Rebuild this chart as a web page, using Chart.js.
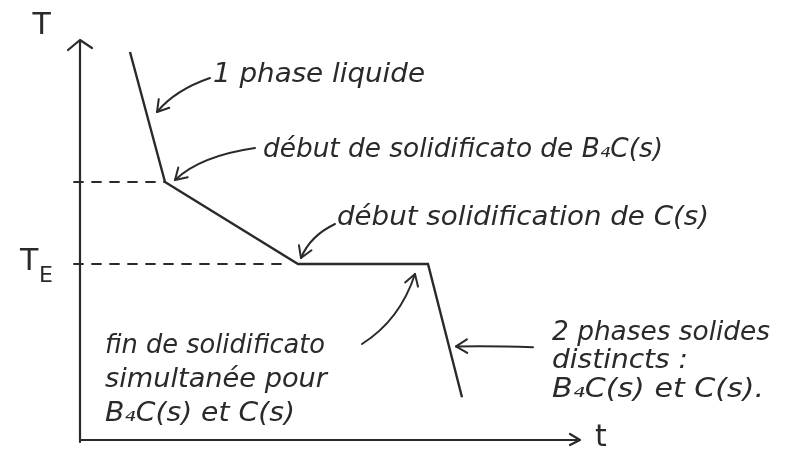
<!DOCTYPE html>
<html>
<head>
<meta charset="utf-8">
<script src="https://cdn.jsdelivr.net/npm/chart.js@4.4.1/dist/chart.umd.min.js"></script>
<style>
  html, body { margin: 0; padding: 0; background: #ffffff; }
  #wrap { width: 798px; height: 470px; }
</style>
</head>
<body>
<div id="wrap"><canvas id="c" width="798" height="470"></canvas></div>
<script>
// Cooling curve T(t): liquid cooling, B4C(s) crystallisation, eutectic plateau, solid cooling
const times = [1.0, 1.7, 4.36, 6.96, 7.64];
const temps = [9.7, 6.45, 4.4, 4.4, 1.07];

// Characteristic temperatures (start of B4C(s) solidification, eutectic T_E)
const levelStart = 6.45;
const levelEutectic = 4.4;
const levelStartEnd = 1.7;
const levelEutecticEnd = 4.2;

// Annotation texts
const labelLiquid = '1 phase liquide';
const labelStartB4C = 'début de solidificato de B₄C(s)';
const labelStartC = 'début solidification de C(s)';
const labelEnd = ['fin de solidificato', 'simultanée pour', 'B₄C(s) et C(s)'];
const labelSolids = ['2 phases solides', 'distincts :', 'B₄C(s) et C(s).'];

const ink = '#2a2a2a';
const hand = 'italic 26px "DejaVu Sans", sans-serif';

// writes a label stretched horizontally to the given width (in pixels)
function writeFit(ctx, text, x, y, w) {
  const m = ctx.measureText(text).width;
  const sx = w / m;
  ctx.save();
  ctx.translate(x, y);
  ctx.scale(sx, 1);
  ctx.fillText(text, 0, 0);
  ctx.restore();
}

const notes = {
  id: 'notes',
  afterDatasetsDraw(chart) {
    const { ctx } = chart;
    const X = v => chart.scales.x.getPixelForValue(v);
    const Y = v => chart.scales.y.getPixelForValue(v);
    ctx.save();
    ctx.strokeStyle = ink;
    ctx.fillStyle = ink;
    ctx.lineCap = 'round';
    ctx.lineJoin = 'round';

    // axes with open arrowheads
    ctx.lineWidth = 2.2;
    ctx.beginPath();
    ctx.moveTo(X(0), Y(0) + 2);
    ctx.lineTo(X(0), Y(10));
    ctx.moveTo(X(0) - 12, Y(10) + 10);
    ctx.lineTo(X(0), Y(10));
    ctx.lineTo(X(0) + 12, Y(10) + 8);
    ctx.moveTo(X(0), Y(0));
    ctx.lineTo(X(10), Y(0));
    ctx.moveTo(X(10) - 10, Y(0) - 6);
    ctx.lineTo(X(10), Y(0));
    ctx.lineTo(X(10) - 10, Y(0) + 5);
    ctx.stroke();

    // dashed level lines
    ctx.lineWidth = 1.8;
    ctx.setLineDash([9, 9]);
    ctx.beginPath();
    ctx.moveTo(X(0) - 6, Y(levelStart));
    ctx.lineTo(X(levelStartEnd), Y(levelStart));
    ctx.moveTo(X(0) - 6, Y(levelEutectic));
    ctx.lineTo(X(levelEutecticEnd), Y(levelEutectic));
    ctx.stroke();
    ctx.setLineDash([]);

    // curved pointer arrows
    const arrows = [
      [[2.6, 9.05], [1.9, 8.75], [1.54, 8.2]],
      [[3.5, 7.3], [2.4, 7.1], [1.9, 6.5]],
      [[5.1, 5.4], [4.6, 5.1], [4.42, 4.55]],
      [[5.64, 2.4], [6.4, 3.0], [6.7, 4.15]],
      [[9.06, 2.32], [8.2, 2.36], [7.52, 2.34]]
    ];
    ctx.lineWidth = 2;
    arrows.forEach(([a, c, b]) => {
      const ax = X(a[0]), ay = Y(a[1]), cx = X(c[0]), cy = Y(c[1]), bx = X(b[0]), by = Y(b[1]);
      ctx.beginPath();
      ctx.moveTo(ax, ay);
      ctx.quadraticCurveTo(cx, cy, bx, by);
      ctx.stroke();
      const ang = Math.atan2(by - cy, bx - cx);
      const len = 13, sp = 0.55;
      ctx.beginPath();
      ctx.moveTo(bx - len * Math.cos(ang - sp), by - len * Math.sin(ang - sp));
      ctx.lineTo(bx, by);
      ctx.lineTo(bx - len * Math.cos(ang + sp), by - len * Math.sin(ang + sp));
      ctx.stroke();
    });

    // text
    ctx.font = hand;
    ctx.textBaseline = 'middle';
    ctx.textAlign = 'left';
    writeFit(ctx, labelLiquid, X(2.66), Y(9.12), 212);
    writeFit(ctx, labelStartB4C, X(3.66), Y(7.25), 400);
    writeFit(ctx, labelStartC, X(5.14), Y(5.55), 372);
    const endW = [220, 222, 190];
    labelEnd.forEach((s, i) => writeFit(ctx, s, X(0.5), Y(2.35 - i * 0.85), endW[i]));
    const solW = [218, 136, 212];
    labelSolids.forEach((s, i) => writeFit(ctx, s, X(9.44), Y(2.68 - i * 0.72), solW[i]));

    // axis names
    ctx.font = '30px "DejaVu Sans", sans-serif';
    ctx.fillText('T', X(-0.95), Y(10.35));
    ctx.fillText('T', X(-1.2), Y(4.45));
    ctx.font = '22px "DejaVu Sans", sans-serif';
    ctx.fillText('E', X(-0.82), Y(4.1));
    ctx.font = '30px "DejaVu Sans", sans-serif';
    ctx.fillText('t', X(10.3), Y(0.05));
    ctx.restore();
  }
};

new Chart(document.getElementById('c'), {
  type: 'scatter',
  data: {
    datasets: [{
      data: times.map((t, i) => ({ x: t, y: temps[i] })),
      showLine: true,
      borderColor: ink,
      borderWidth: 2.4,
      pointRadius: 0,
      tension: 0
    }]
  },
  options: {
    responsive: false,
    animation: false,
    layout: { padding: { left: 80, right: 218, top: 40, bottom: 30 } },
    plugins: { legend: { display: false }, tooltip: { enabled: false } },
    scales: {
      x: { type: 'linear', min: 0, max: 10, display: false },
      y: { type: 'linear', min: 0, max: 10, display: false }
    }
  },
  plugins: [notes]
});
</script>
</body>
</html>
